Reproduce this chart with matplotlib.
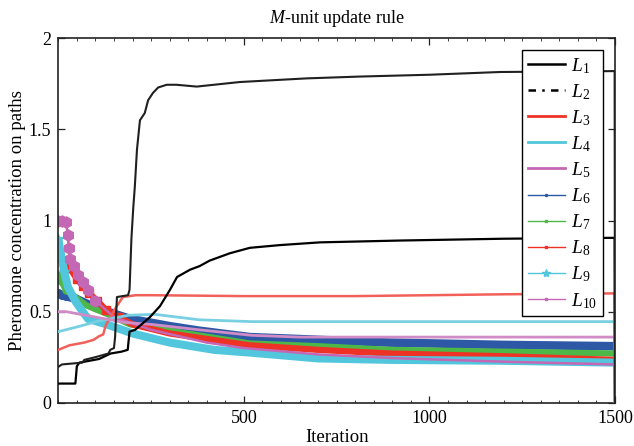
import matplotlib
matplotlib.use("Agg")
import matplotlib.pyplot as plt
from matplotlib.lines import Line2D
from matplotlib.ticker import MultipleLocator, FixedLocator

plt.rcParams['font.family'] = ['Liberation Serif', 'DejaVu Serif']
plt.rcParams['mathtext.fontset'] = 'custom'
plt.rcParams['mathtext.rm'] = 'Liberation Serif'
plt.rcParams['mathtext.it'] = 'Liberation Serif:italic'

# ---------------- data ----------------
labels = [r'$L_{1}$', r'$L_{2}$', r'$L_{3}$', r'$L_{4}$', r'$L_{5}$',
          r'$L_{6}$', r'$L_{7}$', r'$L_{8}$', r'$L_{9}$', r'$L_{10}$']

x_L1 = [0, 10, 65, 70, 100, 135, 140, 150, 153, 158, 188, 192, 197, 202, 206, 212,
        220, 233, 242, 255, 269, 292, 318, 373, 489, 669, 812, 1000, 1190, 1499, 1500]
y_L1 = [0.197, 0.21, 0.22, 0.235, 0.25, 0.27, 0.29, 0.30, 0.36, 0.58, 0.59, 0.62, 0.9,
        1.07, 1.18, 1.39, 1.55, 1.59, 1.66, 1.70, 1.73, 1.745, 1.745, 1.735, 1.76, 1.78,
        1.79, 1.80, 1.815, 1.82, 0]

x_L2 = [0, 46, 50, 57, 110, 141, 170, 187, 192, 207, 230, 247, 274, 301, 320, 355, 381,
        408, 462, 516, 597, 705, 920, 1200, 1499, 1500]
y_L2 = [0.105, 0.105, 0.2, 0.22, 0.24, 0.27, 0.28, 0.29, 0.39, 0.40, 0.44, 0.47, 0.53,
        0.62, 0.69, 0.73, 0.75, 0.78, 0.82, 0.85, 0.865, 0.88, 0.89, 0.90, 0.905, 0]

x_L3 = [0, 30, 70, 95, 110, 121, 128, 140, 156, 174, 209, 250, 500, 800, 1000, 1200, 1499, 1500]
y_L3 = [0.29, 0.315, 0.33, 0.345, 0.365, 0.375, 0.425, 0.47, 0.525, 0.58, 0.59, 0.59,
        0.585, 0.585, 0.59, 0.595, 0.60, 0]

x_L4 = [0, 20, 58, 112, 190, 260, 380, 520, 800, 1100, 1499, 1500]
y_L4 = [0.39, 0.40, 0.42, 0.45, 0.48, 0.485, 0.455, 0.445, 0.445, 0.445, 0.445, 0]

x_L5 = [0, 20, 100, 180, 250, 380, 520, 650, 900, 1200, 1499, 1500]
y_L5 = [0.50, 0.50, 0.47, 0.44, 0.43, 0.40, 0.37, 0.36, 0.36, 0.36, 0.36, 0]

x_L6 = [0, 10, 20, 48, 102, 155, 193, 300, 380, 516, 700, 893, 1200, 1499, 1500]
y_L6 = [0.60, 0.59, 0.585, 0.57, 0.52, 0.485, 0.46, 0.42, 0.395, 0.36, 0.345, 0.33,
        0.317, 0.31, 0]

x_L7 = [0, 8, 20, 75, 128, 193, 300, 516, 700, 893, 1200, 1499, 1500]
y_L7 = [0.70, 0.67, 0.62, 0.535, 0.49, 0.43, 0.395, 0.325, 0.31, 0.29, 0.28, 0.27, 0]

x_L8 = [0, 15, 30, 50, 66, 83, 105, 128, 163, 200, 300, 516, 700, 893, 1200, 1499, 1500]
y_L8 = [0.80, 0.78, 0.74, 0.68, 0.64, 0.60, 0.56, 0.51, 0.47, 0.43, 0.38, 0.315, 0.29,
        0.27, 0.255, 0.235, 0]

x_L9 = [0, 5, 16, 26, 48, 80, 130, 200, 300, 420, 516, 700, 893, 1200, 1499, 1500]
y_L9 = [0.90, 0.84, 0.72, 0.635, 0.55, 0.46, 0.43, 0.38, 0.33, 0.29, 0.275, 0.243,
        0.235, 0.23, 0.22, 0]

x_L10 = [0, 10, 20, 26, 28, 32, 42, 53, 66, 79, 100, 150, 250, 400, 500, 700, 900, 1200, 1499, 1500]
y_L10 = [1.0, 1.0, 0.99, 0.92, 0.85, 0.79, 0.75, 0.70, 0.66, 0.62, 0.56, 0.47, 0.40,
         0.33, 0.30, 0.265, 0.245, 0.225, 0.21, 0]

x_ticks = [500, 1000, 1500]
y_ticks = [0, 0.5, 1, 1.5, 2]
y_tick_labels = ['0', '0.5', '1', '1.5', '2']

# ---------------- styles ----------------
c_blue = '#2c58a6'
c_green = '#4db848'
c_red = '#ee3226'
c_cyan = '#52c6dc'
c_mag = '#c467b4'
c_salmon = '#f2605a'
c_lcyan = '#78d0e2'
c_lmag = '#cf8cc6'

fig = plt.figure(figsize=(6.34, 4.46), dpi=100)
ax = fig.add_axes([58.3 / 634, 43.3 / 446, (615 - 58.3) / 634, (402.7 - 38.3) / 446])

def band(x, y, color, lw, z, marker, ms, nmark):
    ax.plot(x[:-1], y[:-1], color=color, lw=lw, solid_capstyle='butt',
            solid_joinstyle='round', zorder=z)
    ax.plot(x[-2:], y[-2:], color=color, lw=1.0, zorder=z)
    ax.plot(x[:nmark], y[:nmark], ls='none', marker=marker, ms=ms, color=color,
            mec=color, zorder=z)

band(x_L6, y_L6, c_blue, 6.2, 2.0, 'o', 5.5, 4)
band(x_L7, y_L7, c_green, 4.5, 2.1, 'o', 5, 3)
band(x_L8, y_L8, c_red, 4.5, 2.2, 's', 5.5, 9)
band(x_L9, y_L9, c_cyan, 5.8, 2.3, '*', 7, 3)
ax.plot(x_L9[:6], y_L9[:6], color=c_cyan, lw=1.5, zorder=2.35)
ax.plot(x_L10, y_L10, color=c_mag, lw=1.8, zorder=2.4)
ax.plot(x_L10[:11], y_L10[:11], ls='none', marker='h', ms=8, color=c_mag, zorder=2.4)

ax.plot(x_L3, y_L3, color=c_salmon, lw=1.8, zorder=2.6)
ax.plot(x_L4, y_L4, color=c_lcyan, lw=2.0, zorder=2.6)
ax.plot(x_L5, y_L5, color=c_lmag, lw=2.0, zorder=2.6)
ax.plot(x_L2, y_L2, color='black', lw=1.6, zorder=3)
ax.plot(x_L1, y_L1, color='#202020', lw=1.5, zorder=3)

ax.set_xlim(0, 1500)
ax.set_ylim(0, 2)
ax.xaxis.set_major_locator(FixedLocator(x_ticks))
ax.xaxis.set_minor_locator(MultipleLocator(50))
ax.set_yticks(y_ticks)
ax.set_yticklabels(y_tick_labels)
ax.tick_params(which='both', direction='in', top=True, right=True, labelsize=13,
               color='#222222')
ax.tick_params(which='major', length=5, width=0.9, pad=5)
ax.tick_params(which='minor', length=2.5, width=0.6)
for s in ax.spines.values():
    s.set_linewidth(1.2)
    s.set_color('#222222')

ax.set_title(r'$M$-unit update rule', fontsize=13, pad=11)
ax.set_xlabel('Iteration', fontsize=13.5, labelpad=2)
ax.set_ylabel('Pheromone concentration on paths', fontsize=13.5, labelpad=2)

handles = [
    Line2D([], [], color='black', lw=1.8),
    Line2D([], [], color='black', lw=1.8, ls=(0, (3, 2.5, 1, 2.5))),
    Line2D([], [], color=c_red, lw=2.0),
    Line2D([], [], color=c_cyan, lw=2.0),
    Line2D([], [], color=c_mag, lw=2.0),
    Line2D([], [], color=c_blue, lw=1.0, marker='.', ms=3),
    Line2D([], [], color=c_green, lw=1.0, marker='s', ms=1.5),
    Line2D([], [], color=c_red, lw=1.0, marker='s', ms=1.5),
    Line2D([], [], color=c_cyan, lw=1.0, marker='*', ms=6),
    Line2D([], [], color=c_mag, lw=1.0, marker='s', ms=1.5),
]
leg = ax.legend(handles, labels, loc='upper right', fontsize=14, frameon=True,
                fancybox=False, framealpha=1, edgecolor='black', handlelength=1.9,
                handletextpad=0.35, labelspacing=0.33, borderpad=0.3,
                borderaxespad=0.6)
leg.get_frame().set_linewidth(1.0)
leg.set_zorder(5)

fig.savefig('out.png', dpi=100)
